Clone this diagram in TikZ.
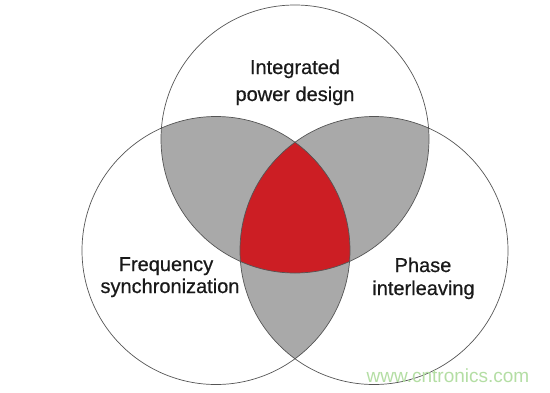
\documentclass[tikz,border=0pt]{standalone}
\usepackage{fontspec}
\setmainfont{Liberation Sans}
\newfontfamily\lblfont[FakeBold=0.6]{Liberation Sans}
\definecolor{vgray}{HTML}{A9A9A9}
\definecolor{vred}{HTML}{CC1E24}
\definecolor{vline}{HTML}{555555}
\definecolor{wmark}{HTML}{B4DEA4}
\tikzset{
  ring/.style={draw=vline, line width=0.7pt},
  lbl/.style={anchor=base, inner sep=0pt, font=\lblfont\fontsize{20}{24}\selectfont, text=black!90},
}
\begin{document}
\begin{tikzpicture}[x=1pt,y=-1pt]
\useasboundingbox (0,0) rectangle (550,392);
\fill[white] (0,0) rectangle (550,392);
\coordinate (T) at (295,139);
\coordinate (L) at (216,250.5);
\coordinate (R) at (374,250.5);
\def\rr{134}
% pairwise overlaps
\begin{scope}
  \clip (T) circle[radius=\rr];
  \fill[vgray] (L) circle[radius=\rr];
  \fill[vgray] (R) circle[radius=\rr];
\end{scope}
\begin{scope}
  \clip (L) circle[radius=\rr];
  \fill[vgray] (R) circle[radius=\rr];
\end{scope}
% triple overlap
\begin{scope}
  \clip (T) circle[radius=\rr];
  \clip (L) circle[radius=\rr];
  \fill[vred] (R) circle[radius=\rr];
\end{scope}
% outlines
\draw[ring] (T) circle[radius=\rr];
\draw[ring] (L) circle[radius=\rr];
\draw[ring] (R) circle[radius=\rr];
% labels
\node[lbl] (t1) at (295,74) {Integrated};
\node[lbl] (t2) at (295,101) {power design};
\node[lbl] (l1) at (166,271) {Frequency};
\node[lbl] (l2) at (170,293) {synchronization};
\node[lbl] (r1) at (423,272) {Phase};
\node[lbl] (r2) at (423.5,295) {interleaving};
\node[anchor=base, inner sep=0pt, font=\fontsize{19}{22}\selectfont, text=wmark] (wm) at (448,382) {www.cntronics.com};
\end{tikzpicture}
\end{document}
